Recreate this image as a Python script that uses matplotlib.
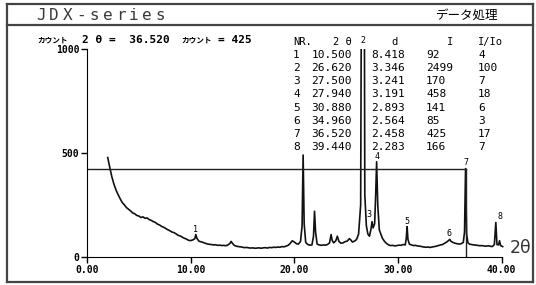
import matplotlib
matplotlib.use("Agg")
import matplotlib.pyplot as plt
from matplotlib.lines import Line2D

# XRD trace (2theta, counts)
two_theta = [
    2.0, 2.2, 2.4, 2.6, 2.8, 3.0, 3.2, 3.4, 3.6, 3.8, 4.0, 4.2, 4.4, 4.6, 4.8,
    5.0, 5.2, 5.4, 5.6, 5.8, 6.0, 6.2, 6.4, 6.6, 6.8, 7.0, 7.2, 7.4, 7.6, 7.8,
    8.0, 8.2, 8.4, 8.6, 8.8, 9.0, 9.2, 9.4, 9.6, 9.8, 10.0, 10.2, 10.4, 10.5,
    10.6, 10.8, 11.0, 11.2, 11.4, 11.6, 11.8, 12.0, 12.2, 12.4, 12.6, 12.8,
    13.0, 13.2, 13.4, 13.6, 13.8, 13.9, 14.0, 14.2, 14.4, 14.6, 14.8, 15.0,
    15.2, 15.4, 15.6, 15.8, 16.0, 16.2, 16.4, 16.6, 16.8, 17.0, 17.2, 17.4,
    17.6, 17.8, 18.0, 18.2, 18.4, 18.6, 18.8, 19.0, 19.2, 19.4, 19.6, 19.8,
    20.0, 20.2, 20.4, 20.6, 20.75, 20.85, 20.95, 21.1, 21.3, 21.5, 21.7, 21.85,
    21.95, 22.05, 22.2, 22.4, 22.6, 22.8, 23.0, 23.2, 23.4, 23.55, 23.65, 23.8,
    24.0, 24.15, 24.3, 24.5, 24.7, 24.9, 25.1, 25.3, 25.45, 25.6, 25.8, 26.0,
    26.2, 26.4, 26.55, 26.62, 26.7, 26.8, 26.95, 27.1, 27.25, 27.4, 27.5, 27.6,
    27.75, 27.85, 27.94, 28.05, 28.2, 28.35, 28.5, 28.7, 28.9, 29.1, 29.3, 29.5,
    29.7, 29.9, 30.1, 30.3, 30.5, 30.7, 30.8, 30.88, 30.96, 31.1, 31.3, 31.5,
    31.7, 31.9, 32.1, 32.3, 32.5, 32.7, 32.9, 33.1, 33.3, 33.5, 33.7, 33.9,
    34.1, 34.3, 34.5, 34.7, 34.9, 35.0, 35.1, 35.3, 35.5, 35.7, 35.9, 36.1,
    36.3, 36.42, 36.52, 36.62, 36.75, 36.9, 37.1, 37.3, 37.5, 37.7, 37.9, 38.1,
    38.3, 38.5, 38.7, 38.9, 39.1, 39.3, 39.44, 39.55, 39.7, 39.8, 39.9, 40.1,
]
counts = [
    478, 430, 385, 350, 322, 300, 280, 262, 251, 238, 230, 222, 212, 208, 200,
    197, 190, 193, 186, 188, 180, 176, 170, 166, 158, 154, 147, 143, 137, 131,
    126, 120, 117, 111, 104, 101, 95, 90, 86, 80, 79, 82, 88, 108,
    90, 76, 73, 70, 66, 63, 61, 60, 58, 59, 56, 57,
    55, 56, 54, 58, 66, 75, 68, 56, 52, 50, 49, 47,
    45, 46, 44, 43, 44, 42, 43, 44, 42, 44, 45, 43,
    46, 45, 47, 46, 48, 47, 50, 49, 52, 56, 65, 78,
    72, 64, 62, 75, 150, 490, 160, 70, 60, 57, 58, 100,
    220, 120, 62, 58, 56, 58, 57, 60, 68, 108, 80, 68,
    78, 100, 75, 66, 68, 74, 76, 88, 82, 72, 76, 84,
    110, 250, 2499, 2499, 2499, 300, 150, 110, 100, 135, 170, 140,
    160, 300, 458, 250, 130, 110, 90, 75, 65, 58, 55, 56,
    53, 55, 57, 56, 60, 58, 90, 146, 85, 62, 58, 55,
    56, 53, 52, 50, 48, 47, 48, 46, 48, 50, 52, 55,
    58, 60, 66, 72, 80, 85, 76, 70, 66, 64, 62, 64,
    70, 120, 425, 110, 68, 62, 60, 58, 57, 56, 54, 55,
    53, 52, 54, 52, 50, 60, 166, 60, 58, 78, 55, 50,
]

# peak table
peak_no = [1, 2, 3, 4, 5, 6, 7, 8]
peak_2theta = [10.500, 26.620, 27.500, 27.940, 30.880, 34.960, 36.520, 39.440]
peak_d = [8.418, 3.346, 3.241, 3.191, 2.893, 2.564, 2.458, 2.283]
peak_I = [92, 2499, 170, 458, 141, 85, 425, 166]
peak_rel = [4, 100, 7, 18, 6, 3, 17, 7]
# where the little peak numbers sit on the trace
label_y = [130, 1040, 202, 485, 173, 115, 452, 197]
label_dx = [0, 0, -0.35, 0, 0, 0, 0, 0.45]

cursor_2theta = 36.520
cursor_count = 425

W, H = 536, 285
fig = plt.figure(figsize=(W / 100, H / 100), dpi=100)
mono = "DejaVu Sans Mono"
jp = ["Noto Sans CJK JP", "DejaVu Sans"]


def ft(x, y, s, **kw):
    fig.text(x / W, 1 - y / H, s, **kw)


# frame of the printout
def fline(x0, y0, x1, y1, lw=1.6):
    fig.add_artist(Line2D([x0 / W, x1 / W], [1 - y0 / H, 1 - y1 / H],
                          color="#444444", lw=lw, transform=fig.transFigure))


fline(7, 4, 533, 4)
fline(7, 25, 533, 25)
fline(7, 282, 533, 282)
fline(7, 4, 7, 282)
fline(533, 4, 533, 282)

for i, ch in enumerate("JDX-series"):
    ft(36 + i * 13.3, 15, ch, fontsize=11.5, family=mono,
       color="#3a3a3a", ha="left", va="center")
ft(498, 15, "データ処理", fontsize=9, family=jp, ha="right", va="center")

# cursor readout line
ft(37, 40, "カウント", fontsize=5.5, family=jp, va="center", fontweight="bold")
ft(82, 40, "2 θ =  %.3f" % cursor_2theta, fontsize=8, family=mono,
   va="center", fontweight="bold")
ft(181, 40, "カウント", fontsize=5.5, family=jp, va="center", fontweight="bold")
ft(218, 40, "= %d" % cursor_count, fontsize=8, family=mono, va="center",
   fontweight="bold")

# table
ty0, tdy = 42, 13.1
ft(293, ty0, "NR.", fontsize=7.5, family=mono, va="center")
ft(352, ty0, "2 θ", fontsize=7.5, family=mono, va="center", ha="right")
ft(395, ty0, "d", fontsize=7.5, family=mono, va="center", ha="center")
ft(450, ty0, "I", fontsize=7.5, family=mono, va="center", ha="center")
ft(478, ty0, "I/Io", fontsize=7.5, family=mono, va="center")
for i in range(len(peak_no)):
    y = ty0 + tdy * (i + 1)
    ft(293, y, str(peak_no[i]), fontsize=8, family=mono, va="center")
    ft(352, y, "%.3f" % peak_2theta[i], fontsize=8, family=mono, va="center", ha="right")
    ft(405, y, "%.3f" % peak_d[i], fontsize=8, family=mono, va="center", ha="right")
    ft(426, y, str(peak_I[i]), fontsize=8, family=mono, va="center")
    ft(478, y, str(peak_rel[i]), fontsize=8, family=mono, va="center")

# chart
ax = fig.add_axes([87 / W, 28 / H, 425 / W, 208 / H])
ax.plot(two_theta, counts, color="#111111", lw=1.2)
ax.plot([0, cursor_2theta], [cursor_count, cursor_count], color="#222222", lw=1.0)
ax.plot([cursor_2theta, cursor_2theta], [0, cursor_count], color="#222222", lw=1.0)
for i in range(len(peak_no)):
    ax.text(peak_2theta[i] + label_dx[i], label_y[i], str(peak_no[i]),
            fontsize=6, family=mono, ha="center", va="center", clip_on=False)

ax.set_xlim(0, 41)
ax.set_ylim(0, 1000)
for s in ["top", "right"]:
    ax.spines[s].set_visible(False)
ax.spines["left"].set_bounds(0, 1000)
ax.spines["bottom"].set_bounds(0, 40)
ax.set_xticks([0, 10, 20, 30, 40])
ax.set_xticklabels(["0.00", "10.00", "20.00", "30.00", "40.00"],
                   family=mono, fontsize=7, fontweight="bold")
ax.set_yticks([0, 500, 1000])
ax.set_yticklabels(["0", "500", "1000"], family=mono, fontsize=7, fontweight="bold")
ax.tick_params(length=4, width=1, pad=1.5)
ax.text(40.8, 45, "2θ", fontsize=12.5, family="DejaVu Sans", color="#333333",
        ha="left", va="center", clip_on=False)

fig.savefig("out.png", dpi=100)
